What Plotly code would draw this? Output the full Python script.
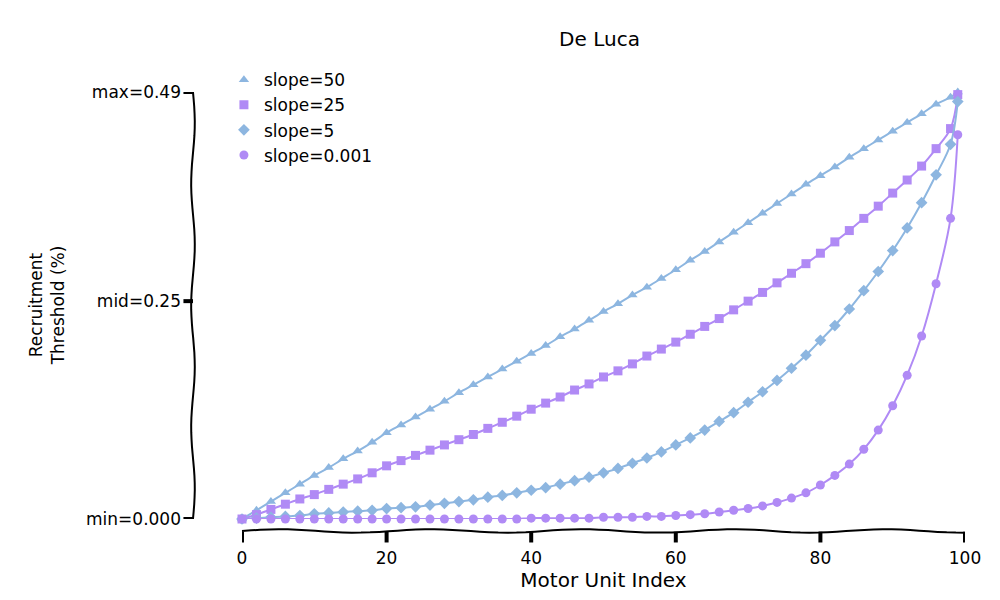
import numpy as np
import plotly.graph_objects as go

x_idx = list(range(0, 100, 2)) + [99]
s50 = [0.000,0.010,0.020,0.030,0.040,0.050,0.059,0.069,0.078,0.088,0.099,0.108,0.117,0.126,0.135,0.145,0.154,0.163,0.172,0.181,
       0.190,0.199,0.209,0.218,0.228,0.238,0.247,0.257,0.266,0.276,0.286,0.297,0.307,0.318,0.329,0.340,0.351,0.362,0.373,0.384,
       0.394,0.404,0.415,0.425,0.435,0.445,0.455,0.465,0.476,0.484,0.490]
s25 = [0.000,0.005,0.011,0.017,0.023,0.028,0.034,0.040,0.046,0.053,0.061,0.067,0.073,0.079,0.085,0.091,0.097,0.104,0.111,0.118,
       0.126,0.133,0.140,0.148,0.155,0.163,0.170,0.178,0.187,0.195,0.203,0.212,0.221,0.230,0.240,0.250,0.260,0.271,0.282,0.293,
       0.305,0.318,0.331,0.345,0.359,0.374,0.389,0.405,0.425,0.448,0.487]
s5 = [0.000,0.001,0.002,0.003,0.004,0.006,0.007,0.008,0.009,0.010,0.012,0.013,0.014,0.016,0.018,0.020,0.022,0.025,0.027,0.030,
      0.033,0.036,0.040,0.044,0.048,0.053,0.058,0.064,0.070,0.077,0.085,0.093,0.102,0.112,0.122,0.134,0.146,0.159,0.173,0.188,
      0.205,0.222,0.241,0.262,0.284,0.308,0.334,0.363,0.395,0.430,0.479]
s0001 = [0.000,0.000,0.000,0.000,0.000,0.000,0.000,0.000,0.000,0.000,0.000,0.000,0.000,0.000,0.000,0.000,0.000,0.000,0.000,0.000,
         0.001,0.001,0.001,0.001,0.001,0.002,0.002,0.002,0.003,0.003,0.004,0.005,0.006,0.008,0.010,0.012,0.015,0.019,0.024,0.030,
         0.039,0.050,0.063,0.080,0.102,0.130,0.165,0.210,0.270,0.345,0.441]
series = [("slope=50", s50, "triangle-up", "#8db6e0"),
          ("slope=25", s25, "square", "#b08af5"),
          ("slope=5", s5, "diamond", "#8db6e0"),
          ("slope=0.001", s0001, "circle", "#b08af5")]
yticks = [0, 0.25, 0.49]
ytick_text = ["min=0.000", "mid=0.25", "max=0.49"]
xticks = [0, 20, 40, 60, 80, 100]

fig = go.Figure()
for name, ys, sym, col in series:
    fig.add_trace(go.Scatter(x=x_idx, y=ys, name=name, mode="lines+markers", showlegend=False,
                             line=dict(color=col, width=2, shape="spline"),
                             marker=dict(symbol=sym, size=9, color=col), cliponaxis=False))
for name, ys, sym, col in series:
    fig.add_trace(go.Scatter(x=[None], y=[None], name=name, mode="markers",
                             marker=dict(symbol=sym, size=9, color=col)))

shapes = []
def wavy_v(x0, y0, y1, amp=0.0025):
    ts = np.linspace(0, 1, 60)
    pts = [(x0 + amp*np.sin(t*22), y0 + (y1-y0)*t) for t in ts]
    return "M " + " L ".join(f"{a:.4f},{b:.4f}" for a, b in pts)
def wavy_h(y0, x0, x1, amp=0.004):
    ts = np.linspace(0, 1, 80)
    pts = [(x0 + (x1-x0)*t, y0 + amp*np.sin(t*30)) for t in ts]
    return "M " + " L ".join(f"{a:.4f},{b:.4f}" for a, b in pts)
shapes.append(dict(type="path", xref="paper", yref="paper", path=wavy_v(-0.0678, 0, 1), line=dict(color="black", width=2)))
shapes.append(dict(type="path", xref="paper", yref="paper", path=wavy_h(-0.028, 0, 1), line=dict(color="black", width=2)))
for v in yticks:
    shapes.append(dict(type="line", xref="paper", yref="y", x0=-0.081, x1=-0.0678, y0=v, y1=v, line=dict(color="black", width=4)))
for v in xticks:
    shapes.append(dict(type="line", xref="x", yref="paper", x0=v, x1=v, y0=-0.030, y1=-0.055, line=dict(color="black", width=4)))

fig.update_layout(
    width=1000, height=600, plot_bgcolor="white", paper_bgcolor="white",
    margin=dict(l=234, r=43, t=84, b=89, autoexpand=False),
    font=dict(family="DejaVu Sans", size=17, color="black"),
    title=dict(text="De Luca", x=0.5915, xanchor="center", y=0.96, font=dict(size=20)),
    xaxis=dict(range=[0, 100], showgrid=False, zeroline=False, showline=False, tickvals=xticks, ticks="", automargin=False,
               ticklabelstandoff=27, title=dict(text="Motor Unit Index", standoff=5)),
    yaxis=dict(range=[0, 0.49], showgrid=False, zeroline=False, showline=False, tickvals=yticks, ticktext=ytick_text,
               ticks="", ticklabelstandoff=60, automargin=False),
    legend=dict(x=-0.025, y=1.07, xanchor="left", yanchor="top", bgcolor="rgba(0,0,0,0)", font=dict(size=17),
                tracegroupgap=2),
    shapes=shapes,
    annotations=[dict(text="Recruitment<br>Threshold (%)", textangle=-90, xref="paper", yref="paper", x=-0.27, y=0.5,
                      xanchor="center", showarrow=False, font=dict(size=17))],
)
fig.write_html("out.html")
